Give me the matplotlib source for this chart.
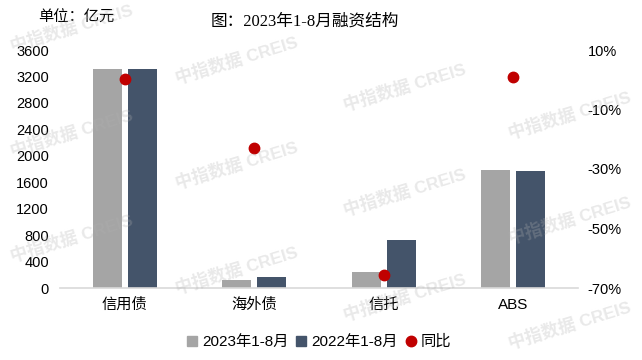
import matplotlib.pyplot as plt
import numpy as np
from matplotlib.lines import Line2D
from matplotlib.ticker import FuncFormatter

plt.rcParams['font.family'] = ['Liberation Sans', 'Noto Sans CJK SC']

categories = ['信用债', '海外债', '信托', 'ABS']
y2023 = [3313, 125, 246, 1787]
y2022 = [3313, 171, 730, 1771]
yoy = [0.2, -22.9, -65.7, 1.0]
left_ticks = list(range(0, 3601, 400))
right_ticks = [10, -10, -30, -50, -70]
series_names = ['2023年1-8月', '2022年1-8月', '同比']

c23 = '#A5A5A5'
c22 = '#44546A'
cdot = '#C00000'

W, H = 642, 360
fig = plt.figure(figsize=(W / 100, H / 100), dpi=100)

# watermark grid (only the ones that fit inside the picture)
wm_cols = [72, 237, 405, 570]
wm_y0 = [28, 60, 87, 10]
for cx, y0 in zip(wm_cols, wm_y0):
    for k in range(-1, 5):
        cy = y0 + 105 * k
        if 24 < cy < H - 24:
            fig.text(cx / W, 1 - cy / H, '中指数据 CREIS', rotation=17,
                     ha='center', va='center', fontsize=12.5, fontweight='bold',
                     color='#b0b0b0', alpha=0.28, zorder=10)

ax = fig.add_axes([60 / W, 1 - 288 / H, 518 / W, 238 / H])
x = np.arange(len(categories))
w = 0.224
ax.bar(x - 0.137, y2023, w, color=c23)
ax.bar(x + 0.137, y2022, w, color=c22)
ax.set_xlim(-0.5, 3.5)
ax.set_ylim(0, 3600)
ax.set_yticks(left_ticks)
ax.set_xticks(x)
ax.set_xticklabels(categories, fontsize=11)
ax.tick_params(axis='y', length=0, labelsize=10.5, pad=8)
ax.tick_params(axis='x', length=0, pad=7)
for s in ['top', 'left', 'right']:
    ax.spines[s].set_visible(False)
ax.spines['bottom'].set_color('#D9D9D9')
ax.spines['bottom'].set_linewidth(1.2)

ax2 = ax.twinx()
ax2.plot(x, yoy, 'o', color=cdot, ms=7.5, zorder=5)
ax2.set_ylim(-70, 10)
ax2.set_yticks(right_ticks)
ax2.yaxis.set_major_formatter(FuncFormatter(lambda v, p: f'{v:.0f}%'))
ax2.tick_params(axis='y', length=0, labelsize=10.5, pad=7)
for s in ax2.spines.values():
    s.set_visible(False)

fig.text(305 / W, 1 - 22 / H, '图：2023年1-8月融资结构', ha='center', va='center',
         fontsize=12, family=['Liberation Serif', 'Noto Sans CJK SC'])
fig.text(38 / W, 1 - 18 / H, '单位：亿元', ha='left', va='center', fontsize=11)

handles = [Line2D([], [], marker='s', ls='', color=c23, ms=7),
           Line2D([], [], marker='s', ls='', color=c22, ms=7),
           Line2D([], [], marker='o', ls='', color=cdot, ms=7.5)]
fig.legend(handles, series_names, loc='center', bbox_to_anchor=(319 / W, 1 - 342 / H),
           ncol=3, frameon=False, fontsize=11, handlelength=0.7, handletextpad=0.3,
           columnspacing=0.5)

fig.savefig('out.png', dpi=100)
